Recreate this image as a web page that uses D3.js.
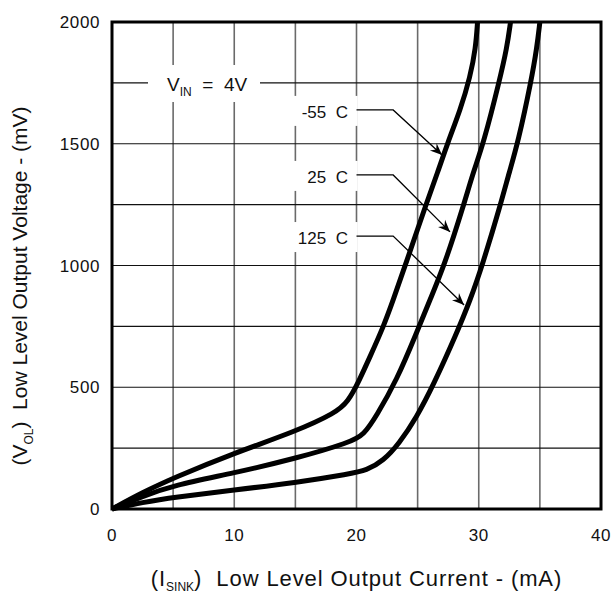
<!DOCTYPE html>
<html>
<head>
<meta charset="utf-8">
<script src="https://cdn.jsdelivr.net/npm/d3@7"></script>
<style>
  body { margin: 0; background: #fff; }
  text { font-family: "Liberation Sans", Arial, sans-serif; fill: #111; }
</style>
</head>
<body>
<div id="chart"></div>
<script>
// curve data (x = sink current mA, y = output voltage mV)
const curveM55 = [[0,0],[2.5,68],[5,127],[10,230],[15,318],[18.3,395],[19.3,440],[20.2,525],[21.1,625],[22.2,748],[23.0,858],[24.0,1002],[25.7,1253],[26.65,1384],[27.45,1503],[28.5,1640],[29.3,1775],[29.75,1893],[29.9,2000]];
const curve25 = [[0,0],[2.5,52],[5,97],[10,148],[15,207],[19.5,274],[20.6,305],[21.6,380],[23.3,530],[24.9,722],[26.0,858],[27.2,1002],[28.8,1253],[29.55,1384],[30.4,1503],[31.7,1760],[32.3,1893],[32.6,2000]];
const curve125 = [[0,0],[2.5,27],[5,48],[10,78],[15,108],[19.5,145],[20.8,158],[22.2,198],[23.5,270],[24.9,375],[26.3,510],[28.2,722],[29.3,858],[30.3,1002],[31.8,1253],[32.5,1384],[33.2,1503],[34.3,1760],[34.75,1893],[35.0,2000]];

const xTicks = [0, 10, 20, 30, 40];
const yTicks = [0, 500, 1000, 1500, 2000];
const xGrid = [5, 10, 15, 20, 25, 30, 35];
const yGrid = [250, 500, 750, 1000, 1250, 1500, 1750];

// temperature labels: text, leader height and arrow tip (data units)
const tempLabels = ['-55  C', '25  C', '125  C'];
const leaderY = [1639, 1372, 1121];
const arrowTips = [[27.0, 1454], [27.65, 1138], [28.8, 838]];

const width = 613, height = 597;
const margin = {top: 22, right: 12, bottom: 88, left: 112};

const svg = d3.select('#chart').append('svg')
    .attr('width', width)
    .attr('height', height);

const x = d3.scaleLinear().domain([0, 40]).range([margin.left, width - margin.right]);
const y = d3.scaleLinear().domain([0, 2000]).range([height - margin.bottom, margin.top]);

// grid
svg.append('g').selectAll('line')
    .data(xGrid)
    .join('line')
    .attr('x1', d => x(d)).attr('x2', d => x(d))
    .attr('y1', y(0)).attr('y2', y(2000))
    .attr('stroke', '#6a6a6a')
    .attr('stroke-width', 1.6);

svg.append('g').selectAll('line')
    .data(yGrid)
    .join('line')
    .attr('x1', x(0)).attr('x2', x(40))
    .attr('y1', d => y(d)).attr('y2', d => y(d))
    .attr('stroke', '#111')
    .attr('stroke-width', 1.2);

// arrow marker
svg.append('defs').append('marker')
    .attr('id', 'arrow')
    .attr('viewBox', '-12 -6 14 12')
    .attr('refX', 0).attr('refY', 0)
    .attr('markerWidth', 14).attr('markerHeight', 12)
    .attr('markerUnits', 'userSpaceOnUse')
    .attr('orient', 'auto')
    .append('path')
    .attr('d', 'M0,0 L-12,-5 L-8,0 L-12,5 Z')
    .attr('fill', '#000');

// label boxes (white, hide grid)
const vin = svg.append('g');
vin.append('rect')
    .attr('x', 148).attr('y', 65)
    .attr('width', 112).attr('height', 37)
    .attr('fill', '#fff');
const vinText = vin.append('text')
    .attr('x', x(4.5)).attr('y', y(1750) + 8)
    .style('font-size', '19px')
    .style('white-space', 'pre');
vinText.append('tspan').text('V');
vinText.append('tspan').text('IN').style('font-size', '12px').attr('dy', 5);
vinText.append('tspan').text('  =  4V').attr('dy', -5);

const labels = svg.append('g').selectAll('g')
    .data(tempLabels)
    .join('g');

labels.append('rect')
    .attr('x', x(14.6)).attr('y', (d, i) => y(leaderY[i]) - 14)
    .attr('width', x(20.1) - x(14.6)).attr('height', 30)
    .attr('fill', '#fff');

labels.append('text')
    .attr('x', x(19.3)).attr('y', (d, i) => y(leaderY[i]) + 8)
    .attr('text-anchor', 'end')
    .style('font-size', '17px')
    .style('white-space', 'pre')
    .text(d => d);

labels.append('path')
    .attr('d', (d, i) => d3.line()([
        [x(20.0), y(leaderY[i])],
        [x(23.0), y(leaderY[i])],
        [x(arrowTips[i][0]), y(arrowTips[i][1])]
    ]))
    .attr('fill', 'none')
    .attr('stroke', '#000')
    .attr('stroke-width', 1.3)
    .attr('marker-end', 'url(#arrow)');

// curves
const line = d3.line()
    .x(d => x(d[0]))
    .y(d => y(d[1]))
    .curve(d3.curveBasis);

svg.append('g').selectAll('path')
    .data([curveM55, curve25, curve125])
    .join('path')
    .attr('d', line)
    .attr('fill', 'none')
    .attr('stroke', '#000')
    .attr('stroke-width', 5)
    .attr('stroke-linejoin', 'round');

// frame
svg.append('rect')
    .attr('x', x(0)).attr('y', y(2000))
    .attr('width', x(40) - x(0)).attr('height', y(0) - y(2000))
    .attr('fill', 'none')
    .attr('stroke', '#000')
    .attr('stroke-width', 3);

// tick labels
svg.append('g').selectAll('text')
    .data(xTicks)
    .join('text')
    .attr('x', d => x(d)).attr('y', y(0) + 32)
    .attr('text-anchor', 'middle')
    .style('font-size', '17px')
    .style('letter-spacing', '0.6px')
    .text(d => d);

svg.append('g').selectAll('text')
    .data(yTicks)
    .join('text')
    .attr('x', x(0) - 12).attr('y', d => y(d) + 6)
    .attr('text-anchor', 'end')
    .style('font-size', '17px')
    .style('letter-spacing', '0.6px')
    .text(d => d);

// axis titles
const xTitle = svg.append('text')
    .attr('x', (x(0) + x(40)) / 2).attr('y', 586)
    .attr('text-anchor', 'middle')
    .style('font-size', '22px')
    .style('letter-spacing', '0.9px')
    .style('white-space', 'pre');
xTitle.append('tspan').text('(I');
xTitle.append('tspan').text('SINK').style('font-size', '12px').style('letter-spacing', '0px').attr('dy', 5);
xTitle.append('tspan').text(')  Low Level Output Current - (mA)').attr('dy', -5);

const yTitle = svg.append('text')
    .attr('transform', 'translate(27,' + 286 + ') rotate(-90)')
    .attr('text-anchor', 'middle')
    .style('font-size', '21px')
    .style('white-space', 'pre');
yTitle.append('tspan').text('(V');
yTitle.append('tspan').text('OL').style('font-size', '12px').attr('dy', 6);
yTitle.append('tspan').text(')  Low Level Output Voltage - (mV)').attr('dy', -6);
</script>
</body>
</html>
